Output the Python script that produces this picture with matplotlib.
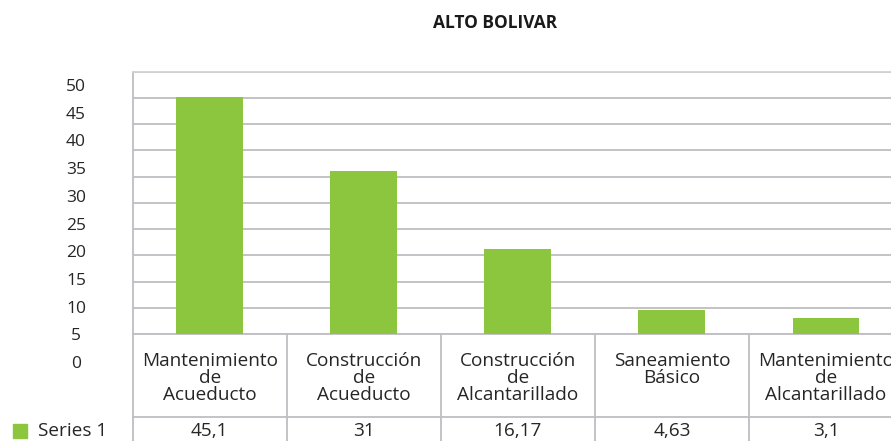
import matplotlib.pyplot as plt
from matplotlib.patches import Rectangle

# data
categories = ['Mantenimiento\nde\nAcueducto', 'Construcción\nde\nAcueducto',
              'Construcción\nde\nAlcantarillado', 'Saneamiento\nBásico',
              'Mantenimiento\nde\nAlcantarillado']
values = [45.1, 31, 16.17, 4.63, 3.1]
series_name = 'Series 1'
y_ticks = list(range(0, 55, 5))

bar_color = '#8CC63F'
grid_color = '#BEBEC3'
text_color = '#262626'
W, H = 891, 441

plt.rcParams['font.family'] = ['Open Sans', 'DejaVu Sans']

fig = plt.figure(figsize=(W / 100, H / 100), dpi=100)

# plot area in pixels (it runs past the right edge, like the original)
left, right, top, bottom = 132.7, 903, 71.7, 334
ax = fig.add_axes([left / W, 1 - bottom / H, (right - left) / W, (bottom - top) / H])
x = list(range(len(values)))
ax.bar(x, values, width=0.434, color=bar_color, zorder=3)
ax.set_xlim(-0.5, len(values) - 0.5)
ax.set_ylim(0, 50)
ax.set_yticks(y_ticks)
ax.set_xticks([])
ax.tick_params(left=False, labelleft=False)
ax.grid(axis='y', color=grid_color, linewidth=1.3, zorder=0)
for s in ['left', 'bottom']:
    ax.spines[s].set_color(grid_color)
    ax.spines[s].set_linewidth(1.3)
ax.spines['top'].set_color('#D2D2D2')
ax.spines['top'].set_linewidth(1.3)
ax.spines['right'].set_visible(False)

# data table below the plot
ax_h = bottom - top
def ay(py):
    return -(py - bottom) / ax_h

header_bottom = ay(416.7)
trans = ax.get_xaxis_transform()
ax.plot([-0.5, len(values) - 0.5], [header_bottom, header_bottom], transform=trans,
        color=grid_color, lw=1.3, clip_on=False)
for k in range(len(values) + 1):
    ax.plot([k - 0.5, k - 0.5], [0, ay(450)], transform=trans,
            color=grid_color, lw=1.3, clip_on=False)
for i, (lab, v) in enumerate(zip(categories, values)):
    ax.text(i, ay(352), lab, transform=trans, ha='center', va='top', fontsize=13.7,
            linespacing=0.94, color=text_color)
    ax.text(i, ay(431), format(v, 'g').replace('.', ','), transform=trans,
            ha='center', va='center', fontsize=13.7, color=text_color)

# legend key + row label
fig.patches.append(Rectangle((13 / W, 1 - 438 / H), 14 / W, 14 / H,
                             transform=fig.transFigure, color=bar_color))
fig.text(38 / W, 1 - 431 / H, series_name, ha='left', va='center', fontsize=13.7,
         color=text_color)

# value axis labels (drawn a bit lower than the gridlines, as in the original)
lab_ax = fig.add_axes([76 / W, 1 - 362 / H, 0.001, (362 - 85) / H])
lab_ax.set_ylim(0, 50)
lab_ax.set_yticks(y_ticks)
lab_ax.set_yticklabels([str(t) for t in y_ticks], ha='center', fontsize=12.5, color=text_color)
lab_ax.tick_params(length=0, pad=0)
lab_ax.set_xticks([])
for s in lab_ax.spines.values():
    s.set_visible(False)
lab_ax.patch.set_visible(False)

fig.text(495.5 / W, 1 - 22.7 / H, 'ALTO BOLIVAR', ha='center', va='center',
         fontsize=12.5, fontweight='bold', color='#1a1a1a')

fig.savefig('out.png', dpi=100)
